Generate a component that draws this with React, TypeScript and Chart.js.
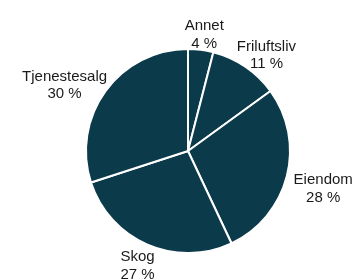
import React, { useEffect, useRef } from "react";
import { Chart, registerables } from "chart.js";

Chart.register(...registerables);

const categories = ["Annet", "Friluftsliv", "Eiendom", "Skog", "Tjenestesalg"];
const shares = [4, 11, 28, 27, 30];
const shareLabels = ["4 %", "11 %", "28 %", "27 %", "30 %"];

const labelPlugin = {
  id: "outsideLabels",
  afterDraw(chart: any) {
    const ctx = chart.ctx;
    const meta = chart.getDatasetMeta(0);
    const fontSize = 15;
    const lineH = 17.5;
    ctx.save();
    ctx.font = `${fontSize}px "Liberation Sans", Arial, sans-serif`;
    ctx.fillStyle = "#1a1a1a";
    ctx.textAlign = "center";
    ctx.textBaseline = "middle";
    meta.data.forEach((arc: any, i: number) => {
      const p = arc.getProps(["x", "y", "startAngle", "endAngle", "outerRadius"], true);
      const mid = (p.startAngle + p.endAngle) / 2;
      const c = Math.cos(mid);
      const s = Math.sin(mid);
      const lines = [categories[i], shareLabels[i]];
      const w = Math.max(...lines.map((t) => ctx.measureText(t).width));
      const ax = p.x + (p.outerRadius + 4) * c;
      const ay = p.y + (p.outerRadius + 4) * s;
      const cx = ax + c * (w / 2 + 4);
      let cy = ay + s * 18 + 7;
      const maxY = chart.height - 14;
      if (cy > maxY) cy = maxY;
      ctx.fillText(lines[0], cx, cy - lineH / 2);
      ctx.fillText(lines[1], cx, cy + lineH / 2);
    });
    ctx.restore();
  },
};

export default function App() {
  const ref = useRef<HTMLCanvasElement | null>(null);
  useEffect(() => {
    document.body.style.margin = "0";
    const chart = new Chart(ref.current as HTMLCanvasElement, {
      type: "pie",
      data: {
        labels: categories,
        datasets: [
          {
            data: shares,
            backgroundColor: "#0b3a4b",
            borderColor: "#ffffff",
            borderWidth: 2,
          },
        ],
      },
      options: {
        animation: false,
        responsive: false,
        layout: { padding: { left: 85, right: 68, top: 48, bottom: 26 } },
        plugins: {
          legend: { display: false },
          tooltip: { enabled: false },
        },
      },
      plugins: [labelPlugin],
    });
    return () => chart.destroy();
  }, []);
  return (
    <div style={{ position: "absolute", left: 0, top: 0, width: 359, height: 280, background: "#fff" }}>
      <canvas ref={ref} width={359} height={280} style={{ width: 359, height: 280 }} />
    </div>
  );
}
